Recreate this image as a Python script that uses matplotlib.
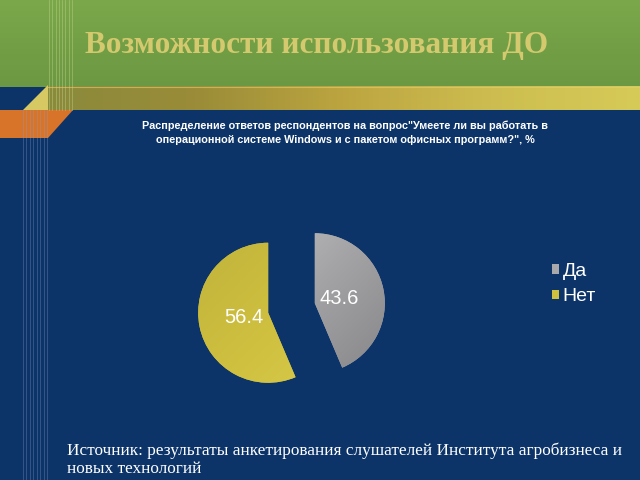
import numpy as np
import matplotlib
matplotlib.use("Agg")
import matplotlib.pyplot as plt
from matplotlib.patches import Polygon, Rectangle
from matplotlib.colors import LinearSegmentedColormap

# ---- data ----
categories = ["Да", "Нет"]
values = [43.6, 56.4]
title = "Возможности использования ДО"
subtitle = ("Распределение ответов респондентов на вопрос\"Умеете ли вы работать в\n"
            "операционной системе Windows и с пакетом офисных программ?\", %")
source = ("Источник: результаты анкетирования слушателей Института агробизнеса и\n"
          "новых технологий")

NAVY = "#0c3468"
fig = plt.figure(figsize=(6.4, 4.8), dpi=100, facecolor=NAVY)

# ---- background slide decoration (pixel coords) ----
bg = fig.add_axes([0, 0, 1, 1])
bg.set_xlim(0, 640)
bg.set_ylim(480, 0)
bg.axis("off")
bg.add_patch(Rectangle((0, 0), 640, 480, color=NAVY, zorder=0))

# green header gradient
gcm = LinearSegmentedColormap.from_list("g", ["#7ba84a", "#6b9842"])
bg.imshow(np.linspace(0, 1, 100).reshape(-1, 1), cmap=gcm, aspect="auto",
          extent=(0, 640, 87, 0), zorder=1)
# gold band gradient
ycm = LinearSegmentedColormap.from_list("y", ["#8a8a3c", "#9a8c38", "#bca540", "#cdbd50", "#d6ca58"])
bg.imshow(np.linspace(0, 1, 200).reshape(1, -1), cmap=ycm, aspect="auto",
          extent=(46, 640, 110, 86), zorder=1)
bg.plot([46, 640], [86.5, 86.5], color="#e0d070", lw=0.8, alpha=0.6, zorder=2)
# triangle
bg.add_patch(Polygon([(23, 110), (48, 85), (48, 110)], closed=True,
                     color="#d6c862", lw=0, zorder=2))
# orange band
bg.add_patch(Polygon([(0, 110), (73, 110), (48, 138), (0, 138)], closed=True,
                     color="#d8732a", lw=0, zorder=2))
# vertical thin lines
for x in np.linspace(49, 72, 8):
    bg.plot([x, x], [0, 110], color="#c8d890", lw=0.5, alpha=0.55, zorder=3)
for x in np.linspace(23, 47, 8):
    bg.plot([x, x], [110, 480], color="#8aa0c8", lw=0.5, alpha=0.45, zorder=3)

# texts
bg.text(85, 45, title, fontsize=22.5, fontweight="bold", color="#d4c96e",
        family="Liberation Serif", va="center", ha="left", zorder=4)
bg.text(345, 133, subtitle, fontsize=7.8, fontweight="bold", color="white",
        family="Liberation Sans", ha="center",
        va="center", linespacing=1.55, zorder=4)
bg.text(67, 460, source, fontsize=12.4, color="white", family="Liberation Serif",
        ha="left", va="center", linespacing=1.15, zorder=4)

# ---- pie ----
R = 70.0
cx, cy = 291.5, 308.0
half = 1.5 * R
ax = fig.add_axes([(cx - half) / 640, (480 - cy - half) / 480, 2 * half / 640, 2 * half / 480])
ax.set_facecolor("none")
colors = ["#a9a9ab", "#cfc03e"]
wedges, texts, autotexts = ax.pie(
    values, colors=colors, startangle=90, counterclock=False,
    explode=[0.34, 0.34], autopct=lambda p: f"{p:.1f}", pctdistance=0.36,
    textprops=dict(color="white", fontsize=14.5, family="Liberation Sans"),
    wedgeprops=dict(lw=0))
ax.set_xlim(-1.5, 1.5)
ax.set_ylim(-1.5, 1.5)
ax.set_aspect("equal")
ax.axis("off")

# gradient fill clipped to wedges
grads = [["#d0d0d2", "#a4a4a6", "#7e7e80"], ["#bdb038", "#cfc040", "#ddd050"]]
for w, gc in zip(wedges, grads):
    cm = LinearSegmentedColormap.from_list("w", gc)
    xx, yy = np.meshgrid(np.linspace(0, 1, 100), np.linspace(0, 1, 100))
    img = ax.imshow((xx + yy) / 2, cmap=cm, extent=(-1.5, 1.5, -1.5, 1.5),
                    origin="upper", zorder=w.get_zorder() + 0.1)
    img.set_clip_path(w)
for t in autotexts:
    t.set_zorder(5)

leg = ax.legend(wedges, categories, loc="upper left",
                bbox_to_anchor=(552 / 640, (480 - 263) / 480), bbox_transform=fig.transFigure,
                frameon=False, prop=dict(family="Liberation Sans", size=14),
                labelcolor="white", borderaxespad=0,
                handlelength=0.35, handleheight=0.35, handletextpad=0.2,
                labelspacing=0.42, borderpad=0)

fig.savefig("out.png", dpi=100, facecolor=NAVY)
